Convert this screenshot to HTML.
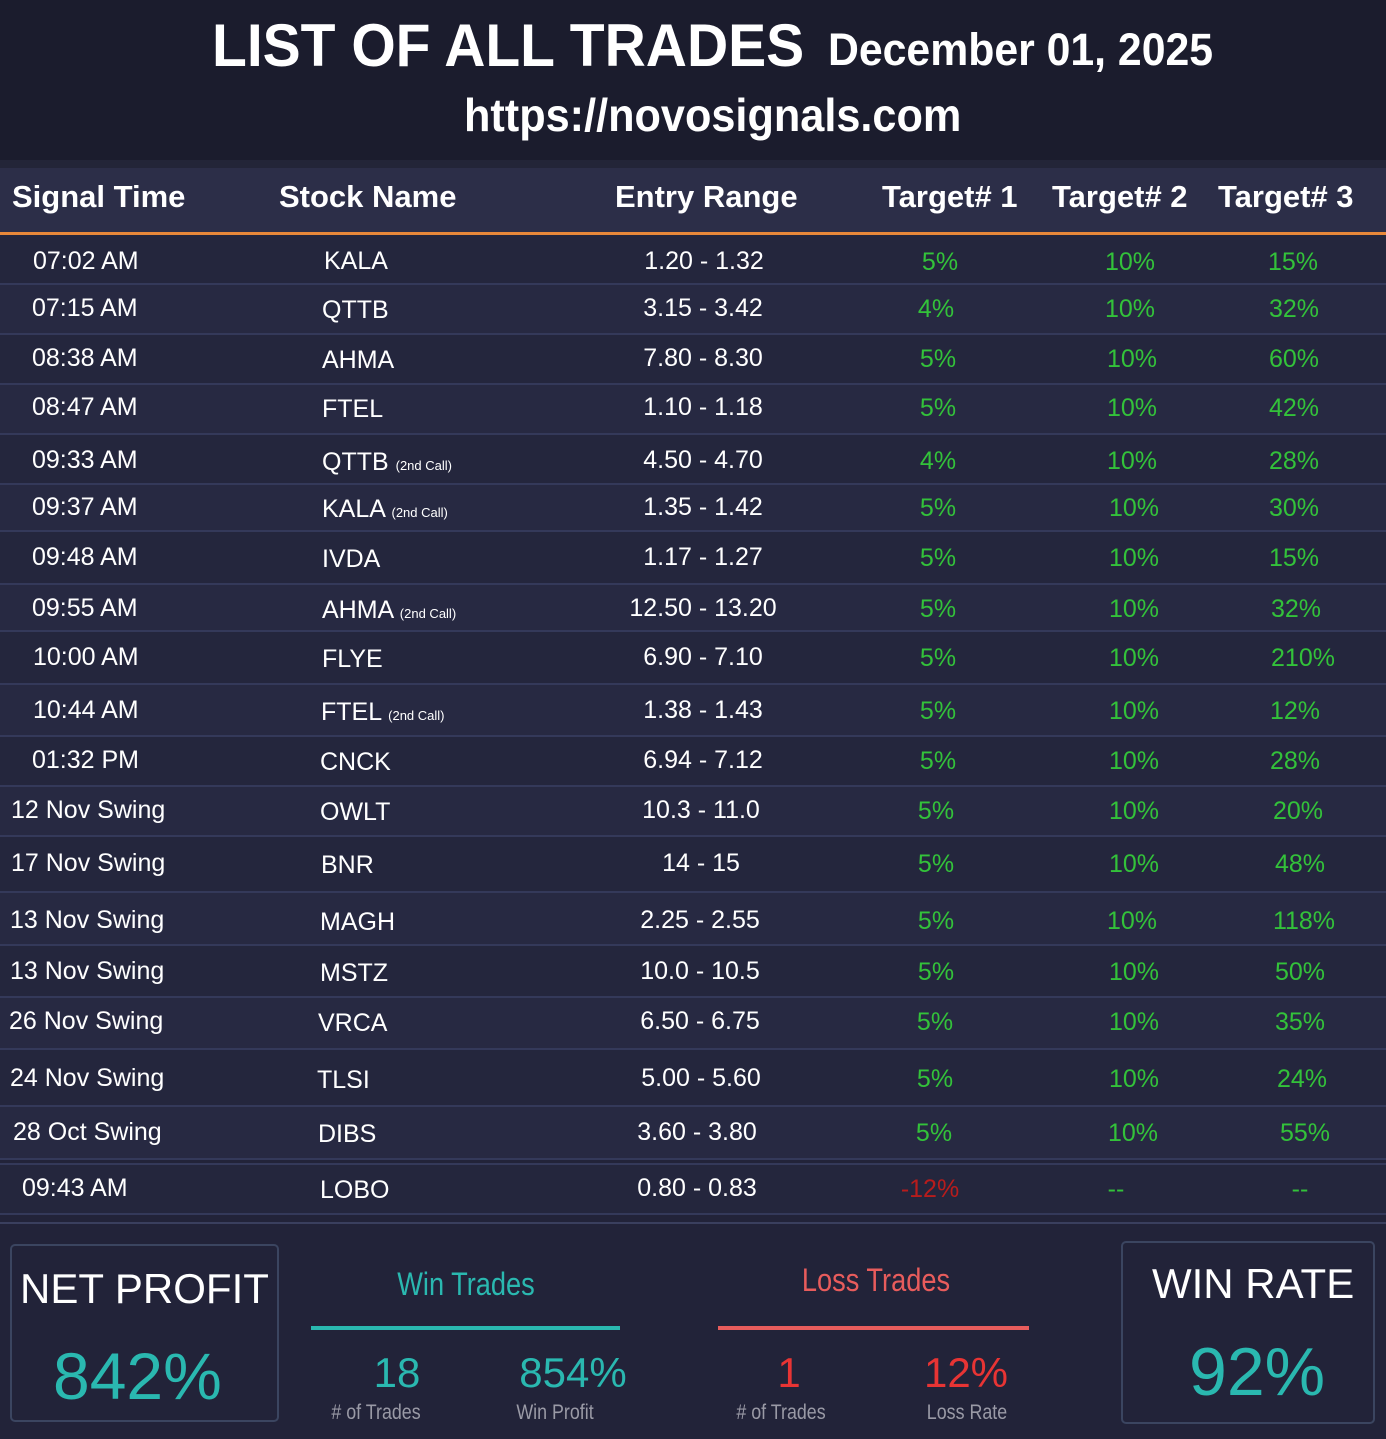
<!DOCTYPE html>
<html><head><meta charset="utf-8"><style>
body{margin:0;width:1386px;height:1439px;background:#222339;position:relative;overflow:hidden;font-family:"Liberation Sans",sans-serif;color:#fff}
.a{position:absolute;white-space:nowrap;line-height:1}
.c{transform:translateX(-50%)}
.g{color:#33c23a}
.row{position:absolute;left:0;width:1386px;border-bottom:2px solid #34395a}
.sm{font-size:13px}
.h{font-size:31px;font-weight:bold;top:181px}
</style></head><body>
<div style="position:absolute;left:0;top:0;width:1386px;height:160px;background:#1b1c2d"></div>
<div style="position:absolute;left:0;top:160px;width:1386px;height:8px;background:#232538"></div>
<div class="a" style="left:212px;top:16px;font-size:60px;font-weight:bold;transform-origin:0 0;transform:scaleX(0.95)">LIST OF ALL TRADES</div>
<div class="a" style="left:828px;top:27px;font-size:45px;font-weight:bold;transform-origin:0 0;transform:scaleX(0.95)">December 01, 2025</div>
<div class="a" style="left:464px;top:92px;font-size:46px;font-weight:bold;transform-origin:0 0;transform:scaleX(0.94)">https://novosignals.com</div>
<div style="position:absolute;left:0;top:168px;width:1386px;height:64px;background:#2c2e48"></div>
<div style="position:absolute;left:0;top:232px;width:1386px;height:3px;background:#e8883a"></div>
<div class="a h" style="left:12px">Signal Time</div>
<div class="a h" style="left:279px">Stock Name</div>
<div class="a h" style="left:615px">Entry Range</div>
<div class="a h" style="left:882px">Target# 1</div>
<div class="a h" style="left:1052px">Target# 2</div>
<div class="a h" style="left:1218px">Target# 3</div>

<div class="row" style="top:235px;height:48px;background:#24263d"></div>
<div class="row" style="top:285px;height:48px;background:#272942"></div>
<div class="row" style="top:335px;height:48px;background:#24263d"></div>
<div class="row" style="top:385px;height:48px;background:#272942"></div>
<div class="row" style="top:435px;height:48px;background:#24263d"></div>
<div class="row" style="top:485px;height:45px;background:#272942"></div>
<div class="row" style="top:532px;height:51px;background:#24263d"></div>
<div class="row" style="top:585px;height:45px;background:#272942"></div>
<div class="row" style="top:632px;height:51px;background:#24263d"></div>
<div class="row" style="top:685px;height:50px;background:#272942"></div>
<div class="row" style="top:737px;height:48px;background:#24263d"></div>
<div class="row" style="top:787px;height:48px;background:#272942"></div>
<div class="row" style="top:837px;height:54px;background:#24263d"></div>
<div class="row" style="top:893px;height:51px;background:#272942"></div>
<div class="row" style="top:946px;height:50px;background:#24263d"></div>
<div class="row" style="top:998px;height:50px;background:#272942"></div>
<div class="row" style="top:1050px;height:55px;background:#24263d"></div>
<div class="row" style="top:1107px;height:51px;background:#272942"></div>
<div class="row" style="top:1163px;height:48px;background:#24263d;border-top:2px solid #34395a"></div>
<div style="position:absolute;left:0;top:1222px;width:1386px;height:2px;background:#3a3f5e"></div>

<div style="font-size:25px">
<div class="a" style="left:33px;top:249px">07:02 AM</div><div class="a" style="left:324px;top:249px">KALA</div><div class="a c" style="left:704px;top:249px">1.20 - 1.32</div><div class="a c g" style="left:940px;top:250px">5%</div><div class="a c g" style="left:1130px;top:250px">10%</div><div class="a c g" style="left:1293px;top:250px">15%</div>
<div class="a" style="left:32px;top:296px">07:15 AM</div><div class="a" style="left:322px;top:298px">QTTB</div><div class="a c" style="left:703px;top:296px">3.15 - 3.42</div><div class="a c g" style="left:936px;top:297px">4%</div><div class="a c g" style="left:1130px;top:297px">10%</div><div class="a c g" style="left:1294px;top:297px">32%</div>
<div class="a" style="left:32px;top:346px">08:38 AM</div><div class="a" style="left:322px;top:348px">AHMA</div><div class="a c" style="left:703px;top:346px">7.80 - 8.30</div><div class="a c g" style="left:938px;top:347px">5%</div><div class="a c g" style="left:1132px;top:347px">10%</div><div class="a c g" style="left:1294px;top:347px">60%</div>
<div class="a" style="left:32px;top:395px">08:47 AM</div><div class="a" style="left:322px;top:397px">FTEL</div><div class="a c" style="left:703px;top:395px">1.10 - 1.18</div><div class="a c g" style="left:938px;top:396px">5%</div><div class="a c g" style="left:1132px;top:396px">10%</div><div class="a c g" style="left:1294px;top:396px">42%</div>
<div class="a" style="left:32px;top:448px">09:33 AM</div><div class="a" style="left:322px;top:450px">QTTB <span class="sm">(2nd Call)</span></div><div class="a c" style="left:703px;top:448px">4.50 - 4.70</div><div class="a c g" style="left:938px;top:449px">4%</div><div class="a c g" style="left:1132px;top:449px">10%</div><div class="a c g" style="left:1294px;top:449px">28%</div>
<div class="a" style="left:32px;top:495px">09:37 AM</div><div class="a" style="left:322px;top:497px">KALA <span class="sm">(2nd Call)</span></div><div class="a c" style="left:703px;top:495px">1.35 - 1.42</div><div class="a c g" style="left:938px;top:496px">5%</div><div class="a c g" style="left:1134px;top:496px">10%</div><div class="a c g" style="left:1294px;top:496px">30%</div>
<div class="a" style="left:32px;top:545px">09:48 AM</div><div class="a" style="left:322px;top:547px">IVDA</div><div class="a c" style="left:703px;top:545px">1.17 - 1.27</div><div class="a c g" style="left:938px;top:546px">5%</div><div class="a c g" style="left:1134px;top:546px">10%</div><div class="a c g" style="left:1294px;top:546px">15%</div>
<div class="a" style="left:32px;top:596px">09:55 AM</div><div class="a" style="left:322px;top:598px">AHMA <span class="sm">(2nd Call)</span></div><div class="a c" style="left:703px;top:596px">12.50 - 13.20</div><div class="a c g" style="left:938px;top:597px">5%</div><div class="a c g" style="left:1134px;top:597px">10%</div><div class="a c g" style="left:1296px;top:597px">32%</div>
<div class="a" style="left:33px;top:645px">10:00 AM</div><div class="a" style="left:322px;top:647px">FLYE</div><div class="a c" style="left:703px;top:645px">6.90 - 7.10</div><div class="a c g" style="left:938px;top:646px">5%</div><div class="a c g" style="left:1134px;top:646px">10%</div><div class="a c g" style="left:1303px;top:646px">210%</div>
<div class="a" style="left:33px;top:698px">10:44 AM</div><div class="a" style="left:321px;top:700px">FTEL <span class="sm">(2nd Call)</span></div><div class="a c" style="left:703px;top:698px">1.38 - 1.43</div><div class="a c g" style="left:938px;top:699px">5%</div><div class="a c g" style="left:1134px;top:699px">10%</div><div class="a c g" style="left:1295px;top:699px">12%</div>
<div class="a" style="left:32px;top:748px">01:32 PM</div><div class="a" style="left:320px;top:750px">CNCK</div><div class="a c" style="left:703px;top:748px">6.94 - 7.12</div><div class="a c g" style="left:938px;top:749px">5%</div><div class="a c g" style="left:1134px;top:749px">10%</div><div class="a c g" style="left:1295px;top:749px">28%</div>
<div class="a" style="left:11px;top:798px">12 Nov Swing</div><div class="a" style="left:320px;top:800px">OWLT</div><div class="a c" style="left:701px;top:798px">10.3 - 11.0</div><div class="a c g" style="left:936px;top:799px">5%</div><div class="a c g" style="left:1134px;top:799px">10%</div><div class="a c g" style="left:1298px;top:799px">20%</div>
<div class="a" style="left:11px;top:851px">17 Nov Swing</div><div class="a" style="left:321px;top:853px">BNR</div><div class="a c" style="left:701px;top:851px">14 - 15</div><div class="a c g" style="left:936px;top:852px">5%</div><div class="a c g" style="left:1134px;top:852px">10%</div><div class="a c g" style="left:1300px;top:852px">48%</div>
<div class="a" style="left:10px;top:908px">13 Nov Swing</div><div class="a" style="left:320px;top:910px">MAGH</div><div class="a c" style="left:700px;top:908px">2.25 - 2.55</div><div class="a c g" style="left:936px;top:909px">5%</div><div class="a c g" style="left:1132px;top:909px">10%</div><div class="a c g" style="left:1304px;top:909px">118%</div>
<div class="a" style="left:10px;top:959px">13 Nov Swing</div><div class="a" style="left:320px;top:961px">MSTZ</div><div class="a c" style="left:700px;top:959px">10.0 - 10.5</div><div class="a c g" style="left:936px;top:960px">5%</div><div class="a c g" style="left:1134px;top:960px">10%</div><div class="a c g" style="left:1300px;top:960px">50%</div>
<div class="a" style="left:9px;top:1009px">26 Nov Swing</div><div class="a" style="left:318px;top:1011px">VRCA</div><div class="a c" style="left:700px;top:1009px">6.50 - 6.75</div><div class="a c g" style="left:935px;top:1010px">5%</div><div class="a c g" style="left:1134px;top:1010px">10%</div><div class="a c g" style="left:1300px;top:1010px">35%</div>
<div class="a" style="left:10px;top:1066px">24 Nov Swing</div><div class="a" style="left:317px;top:1068px">TLSI</div><div class="a c" style="left:701px;top:1066px">5.00 - 5.60</div><div class="a c g" style="left:935px;top:1067px">5%</div><div class="a c g" style="left:1134px;top:1067px">10%</div><div class="a c g" style="left:1302px;top:1067px">24%</div>
<div class="a" style="left:13px;top:1120px">28 Oct Swing</div><div class="a" style="left:318px;top:1122px">DIBS</div><div class="a c" style="left:697px;top:1120px">3.60 - 3.80</div><div class="a c g" style="left:934px;top:1121px">5%</div><div class="a c g" style="left:1133px;top:1121px">10%</div><div class="a c g" style="left:1305px;top:1121px">55%</div>
<div class="a" style="left:22px;top:1176px">09:43 AM</div><div class="a" style="left:320px;top:1178px">LOBO</div><div class="a c" style="left:697px;top:1176px">0.80 - 0.83</div><div class="a c" style="left:930px;top:1177px;color:#b81c1c">-12%</div><div class="a c g" style="left:1116px;top:1177px">--</div><div class="a c g" style="left:1300px;top:1177px">--</div>
</div>

<div style="position:absolute;left:10px;top:1244px;width:265px;height:174px;border:2px solid #3b4560;border-radius:5px"></div>
<div class="a" style="left:20px;top:1268px;font-size:42px">NET PROFIT</div>
<div class="a" style="left:53px;top:1343px;font-size:66px;color:#2ab8b0">842%</div>

<div class="a c" style="left:466px;top:1268px;font-size:32px;color:#2ab8b0;transform:translateX(-50%) scaleX(0.85)">Win Trades</div>
<div style="position:absolute;left:311px;top:1326px;width:309px;height:4px;background:#2ab8b0"></div>
<div class="a c" style="left:397px;top:1352px;font-size:42px;color:#2ab8b0">18</div>
<div class="a c" style="left:573px;top:1352px;font-size:42px;color:#2ab8b0">854%</div>
<div class="a c" style="left:376px;top:1402px;font-size:21px;color:#9a9aa6;transform:translateX(-50%) scaleX(0.85)"># of Trades</div>
<div class="a c" style="left:555px;top:1402px;font-size:21px;color:#9a9aa6;transform:translateX(-50%) scaleX(0.85)">Win Profit</div>

<div class="a c" style="left:876px;top:1264px;font-size:32px;color:#e85c5c;transform:translateX(-50%) scaleX(0.85)">Loss Trades</div>
<div style="position:absolute;left:718px;top:1326px;width:311px;height:4px;background:#e85c5c"></div>
<div class="a c" style="left:789px;top:1352px;font-size:42px;color:#e83434">1</div>
<div class="a c" style="left:966px;top:1352px;font-size:42px;color:#e83434">12%</div>
<div class="a c" style="left:781px;top:1402px;font-size:21px;color:#9a9aa6;transform:translateX(-50%) scaleX(0.85)"># of Trades</div>
<div class="a c" style="left:967px;top:1402px;font-size:21px;color:#9a9aa6;transform:translateX(-50%) scaleX(0.85)">Loss Rate</div>

<div style="position:absolute;left:1121px;top:1241px;width:250px;height:179px;border:2px solid #3b4560;border-radius:5px"></div>
<div class="a" style="left:1152px;top:1263px;font-size:42px">WIN RATE</div>
<div class="a" style="left:1189px;top:1338px;font-size:68px;color:#2ab8b0">92%</div>
</body></html>
